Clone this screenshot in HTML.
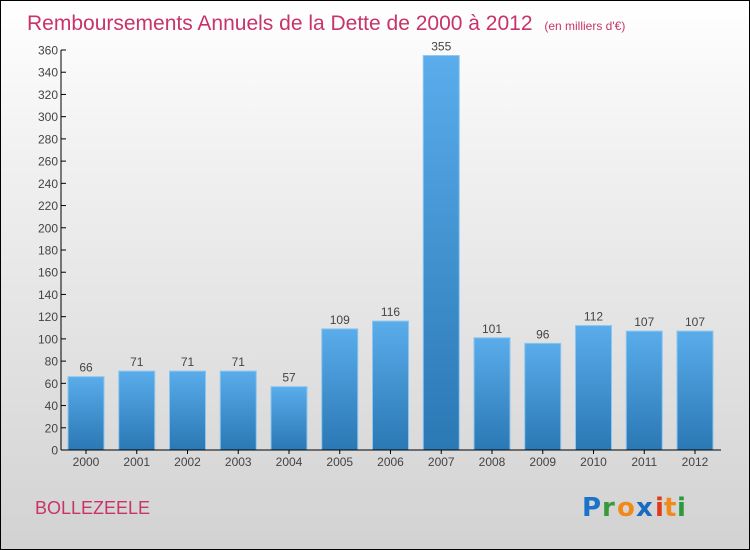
<!DOCTYPE html>
<html><head><meta charset="utf-8"><style>
body{margin:0}
#c{width:750px;height:550px;position:relative;box-sizing:border-box;border:1px solid #000;background:linear-gradient(#fff,#f0f0f0 30%,#d2d2d2);font-family:"Liberation Sans",sans-serif;overflow:hidden}
</style></head><body>
<div id="c">
<svg width="748" height="548" viewBox="1 1 748 548" style="position:absolute;left:0;top:0" id="svg">
<defs><linearGradient id="bg" x1="0" y1="0" x2="0" y2="1"><stop offset="0" stop-color="#5aaceb"/><stop offset="1" stop-color="#2a78b4"/></linearGradient></defs>
<text x="27" y="30" font-size="21" fill="#c8336a">Remboursements Annuels de la Dette de 2000 à 2012 <tspan font-size="12" dx="6">(en milliers d'€)</tspan></text>
<text x="35" y="514" font-size="18" fill="#c8336a">BOLLEZEELE</text>
<g font-size="26" font-weight="bold" font-family="'DejaVu Sans',sans-serif">
<text x="582" y="516" fill="#1a73c8">P</text><text x="602" y="516" fill="#3a9a3a">r</text><text x="617" y="516" fill="#f08a1a">o</text><text x="636" y="516" fill="#1a6ac0">x</text><text x="655" y="516" fill="#e03a1a">i</text><text x="664" y="516" fill="#f08a1a">t</text><text x="677" y="516" fill="#2a9a3a">i</text></g>
<g id="plot"></g>
</svg>
</div>
<script>
const categories=["2000","2001","2002","2003","2004","2005","2006","2007","2008","2009","2010","2011","2012"];
const values=[66,71,71,71,57,109,116,355,101,96,112,107,107];
const yTicks=[0,20,40,60,80,100,120,140,160,180,200,220,240,260,280,300,320,340,360];
const NS="http://www.w3.org/2000/svg";
const g=document.getElementById('plot');
const y=v=>450-v*400/360;
const x=i=>86+i*50.75;
function el(t,a,txt){const e=document.createElementNS(NS,t);for(const k in a)e.setAttribute(k,a[k]);if(txt!==undefined)e.textContent=txt;g.appendChild(e);return e;}
yTicks.forEach(v=>{
 const l=el('line',{x1:61,x2:66,y1:y(v),y2:y(v),stroke:'#000'});
 
 
 const t=el('text',{x:58,y:y(v)+4.5,'text-anchor':'end','font-size':12,fill:'#444'},v);
 
 
});
values.forEach((v,i)=>{
 const r=el('rect',{x:x(i)-18,y:y(v),width:36,height:450-y(v),fill:'url(#bg)',stroke:'#8cc6f0','stroke-width':1});
 
 
 const t=el('text',{x:x(i),y:y(v)-5,'text-anchor':'middle','font-size':12,fill:'#444'},v);
 
 
 const tk=el('line',{x1:x(i),x2:x(i),y1:450,y2:454,stroke:'#000'});
 
 
 const c=el('text',{x:x(i),y:466,'text-anchor':'middle','font-size':12,fill:'#444'},categories[i]);
 
 
});
const ya=el('line',{x1:61,x2:61,y1:50,y2:450,stroke:'#000'});


const xa=el('line',{x1:61,x2:721,y1:450,y2:450,stroke:'#000'});


</script>
</body></html>
